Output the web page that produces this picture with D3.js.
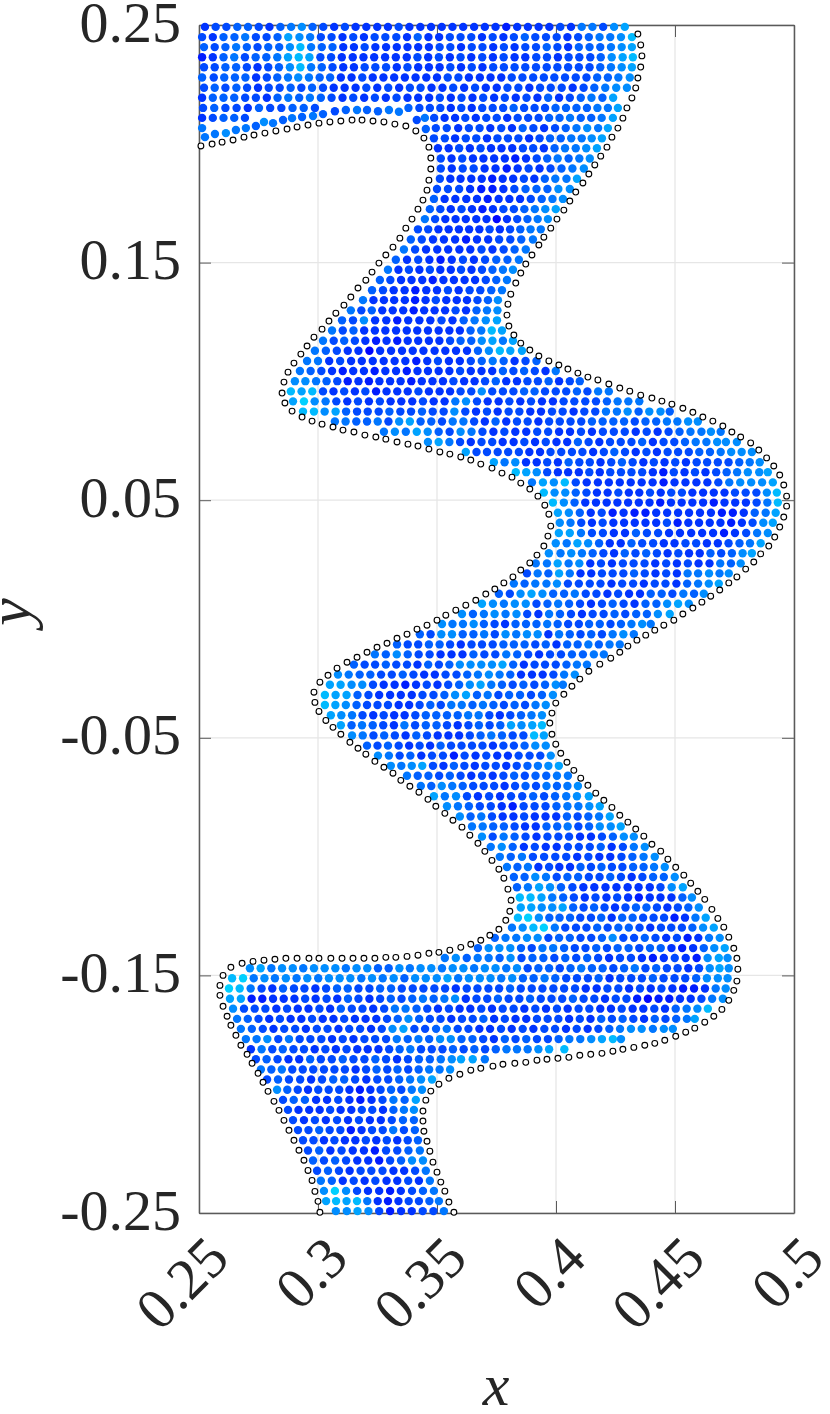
<!DOCTYPE html>
<html><head><meta charset="utf-8">
<script src="https://cdnjs.cloudflare.com/ajax/libs/d3/7.8.5/d3.min.js"></script>
<style>html,body{margin:0;background:#fff}svg{display:block}</style></head>
<body><svg id="c" width="830" height="1414"></svg>
<script>
const xTicks=[.25,.3,.35,.4,.45,.5];
const xTickLabels=["0.25","0.3","0.35","0.4","0.45","0.5"];
const yTicks=[.25,.15,.05,-.05,-.15,-.25];
const yTickLabels=["0.25","0.15","0.05","-0.05","-0.15","-0.25"];
const xName="x", yName="y";
// Boundary nodes, as [x,y] in units of 1e-4.
const boundaryLeft=[[2508,1991],[2555,1999],[2597,2007],[2643,2016],[2689,2028],[2731,2037],[2777,2045],[2823,2054],[2870,2062],[2912,2071],[2958,2079],[3004,2087],[3050,2092],[3096,2096],[3143,2100],[3185,2100],[3231,2096],[3277,2092],[3323,2083],[3369,2075],[3411,2054],[3445,2024],[3466,1986],[3474,1940],[3474,1894],[3466,1847],[3458,1805],[3441,1763],[3420,1725],[3395,1683],[3369,1645],[3344,1603],[3315,1565],[3285,1532],[3256,1498],[3227,1460],[3201,1426],[3168,1393],[3138,1355],[3109,1321],[3075,1287],[3046,1254],[3017,1220],[2983,1186],[2954,1149],[2928,1115],[2899,1077],[2874,1039],[2857,997],[2849,951],[2861,909],[2891,875],[2933,850],[2975,833],[3017,820],[3063,808],[3105,795],[3151,787],[3197,774],[3243,766],[3285,757],[3332,745],[3378,736],[3420,728],[3466,715],[3512,703],[3554,694],[3600,682],[3642,669],[3684,652],[3731,635],[3773,614],[3815,597],[3852,572],[3890,547],[3924,517],[3953,479],[3970,441],[3978,391],[3966,349],[3949,307],[3920,269],[3890,236],[3852,206],[3819,177],[3781,152],[3743,126],[3705,105],[3663,79],[3621,58],[3579,37],[3537,16],[3500,-5],[3458,-26],[3416,-43],[3374,-64],[3332,-81],[3290,-102],[3248,-119],[3206,-140],[3164,-161],[3122,-182],[3080,-207],[3042,-237],[3008,-266],[2983,-308],[2987,-351],[3004,-389],[3033,-427],[3063,-456],[3096,-485],[3134,-519],[3168,-544],[3201,-569],[3239,-599],[3277,-624],[3315,-649],[3348,-679],[3386,-704],[3424,-729],[3462,-759],[3495,-788],[3533,-818],[3567,-847],[3605,-876],[3638,-910],[3672,-944],[3701,-978],[3731,-1016],[3760,-1053],[3781,-1091],[3798,-1137],[3811,-1184],[3806,-1230],[3789,-1268],[3760,-1306],[3722,-1331],[3684,-1352],[3642,-1369],[3600,-1382],[3554,-1394],[3508,-1403],[3466,-1407],[3420,-1415],[3374,-1420],[3327,-1424],[3285,-1424],[3239,-1428],[3193,-1428],[3147,-1428],[3101,-1428],[3054,-1428],[3004,-1428],[2962,-1428],[2912,-1428],[2865,-1428],[2819,-1432],[2773,-1436],[2727,-1441],[2681,-1449],[2634,-1466],[2601,-1500],[2588,-1542],[2588,-1584],[2601,-1630],[2618,-1672],[2634,-1710],[2655,-1752],[2676,-1794],[2702,-1832],[2723,-1870],[2748,-1912],[2769,-1950],[2790,-1988],[2815,-2030],[2836,-2068],[2857,-2110],[2878,-2152],[2899,-2194],[2920,-2236],[2941,-2278],[2958,-2321],[2975,-2363],[2987,-2409],[3000,-2451],[3008,-2497]];
const boundaryRight=[[4344,2462],[4356,2416],[4361,2370],[4356,2323],[4344,2277],[4335,2235],[4319,2193],[4298,2151],[4281,2108],[4260,2066],[4235,2028],[4214,1986],[4188,1948],[4163,1911],[4138,1873],[4113,1835],[4083,1797],[4058,1759],[4033,1721],[4004,1683],[3978,1645],[3949,1607],[3928,1574],[3899,1532],[3873,1494],[3852,1456],[3831,1414],[3810,1367],[3798,1325],[3794,1279],[3802,1233],[3823,1195],[3852,1161],[3890,1132],[3928,1107],[3970,1086],[4012,1069],[4050,1052],[4092,1035],[4134,1018],[4176,1006],[4222,989],[4268,972],[4310,959],[4356,942],[4403,930],[4445,917],[4487,904],[4533,887],[4575,870],[4617,850],[4659,833],[4701,812],[4739,787],[4776,766],[4818,741],[4852,711],[4885,678],[4915,644],[4940,606],[4957,564],[4969,517],[4969,475],[4957,429],[4940,387],[4919,345],[4894,307],[4860,274],[4831,240],[4797,210],[4760,177],[4726,152],[4688,122],[4650,96],[4613,71],[4575,46],[4533,21],[4495,-5],[4453,-26],[4415,-47],[4377,-68],[4340,-89],[4302,-114],[4268,-140],[4230,-165],[4184,-190],[4138,-220],[4100,-253],[4067,-283],[4033,-317],[3999,-354],[3983,-396],[3974,-438],[3983,-485],[3999,-527],[4020,-565],[4046,-603],[4075,-637],[4104,-670],[4134,-700],[4167,-733],[4201,-763],[4235,-793],[4268,-826],[4302,-855],[4335,-884],[4369,-914],[4403,-948],[4440,-977],[4470,-1011],[4503,-1045],[4537,-1078],[4566,-1112],[4596,-1146],[4625,-1180],[4655,-1222],[4680,-1260],[4705,-1297],[4726,-1339],[4747,-1386],[4760,-1428],[4764,-1474],[4760,-1524],[4747,-1563],[4726,-1605],[4697,-1643],[4663,-1672],[4625,-1697],[4583,-1722],[4545,-1739],[4503,-1756],[4457,-1773],[4415,-1786],[4373,-1794],[4327,-1803],[4281,-1811],[4239,-1819],[4193,-1828],[4146,-1832],[4100,-1836],[4054,-1845],[4008,-1849],[3962,-1853],[3920,-1857],[3873,-1866],[3827,-1870],[3777,-1874],[3735,-1882],[3684,-1891],[3642,-1899],[3596,-1916],[3550,-1933],[3508,-1958],[3474,-1987],[3453,-2025],[3441,-2071],[3441,-2113],[3445,-2156],[3458,-2198],[3470,-2240],[3483,-2286],[3500,-2328],[3516,-2370],[3533,-2408],[3550,-2454],[3571,-2497]];
// Nodes that hug the arch under the top lobe: [x,y,level].
const archNodes=[[2525,2028,5],[2567,2041,5],[2613,2045,6],[2655,2058,5],[2697,2066,5],[2739,2075,4],[2773,2092,6],[2811,2087,5],[2853,2100,4],[2891,2108,5],[2933,2113,4],[2979,2117,5],[3021,2125,4],[3071,2137,3],[3117,2142,4],[3164,2142,5],[3206,2142,4],[3252,2137,4],[3298,2142,5],[3340,2135,5],[3415,2100,3],[3453,2062,4]];
// Interior nodes.
// rowY: row height in units of 1e-4. rowNodes: each entry is x (1e-4 units) followed by one digit, the colour level 0-9.
const rowY=[2492,2449,2407,2364,2322,2279,2236,2194,2151,2109,2066,2023,1981,1938,1896,1853,1810,1768,1725,1683,1640,1597,1555,1512,1470,1427,1384,1342,1299,1257,1214,1171,1129,1086,1044,1001,958,916,873,831,788,745,703,660,618,575,532,490,447,405,362,319,277,234,192,149,106,64,21,-21,-64,-107,-149,-192,-234,-277,-320,-362,-405,-447,-490,-533,-575,-618,-660,-703,-746,-788,-831,-873,-916,-959,-1001,-1044,-1086,-1129,-1172,-1214,-1257,-1299,-1342,-1385,-1427,-1470,-1512,-1555,-1598,-1640,-1683,-1725,-1768,-1811,-1853,-1896,-1938,-1981,-2024,-2066,-2109,-2151,-2194,-2237,-2279,-2322,-2364,-2407,-2450,-2492];
const rowNodes=[
[25252,25703,26153,26614,27064,27513,27962,28424,28875,29326,29774,30223,30682,31133,31582,32032,32492,32942,33393,33842,34302,34752,35202,35652,36102,36562,37012,37462,37911,38372,38822,39272,39722,40183,40632,41085,41535,41983,42446,42897],
[25133,25582,26034,26494,26945,27393,27843,28304,28757,29226,29675,30123,30573,31032,31483,31932,32383,32833,33293,33742,34194,34642,35092,35543,35993,36443,36892,37343,37792,38233,38694,39133,39583,40033,40482,40933,41384,41835,42285,42736,43198],
[25214,25663,26114,26565,27014,27463,27914,28374,28826,29268,29715,30164,30614,31062,31512,31963,32412,32862,33312,33762,34212,34662,35113,35563,36012,36463,36913,37362,37813,38262,38713,39163,39614,40063,40512,40964,41414,41864,42315,42766,43197],
[25131,25582,26034,26485,26933,27384,27834,28295,28747,29198,29647,30103,30553,31002,31462,31912,32362,32822,33272,33732,34183,34632,35083,35542,35993,36442,36903,37352,37803,38262,38712,39173,39623,40082,40533,40983,41443,41884,42346,42807,43238],
[25213,25663,26114,26564,27013,27462,27913,28364,28826,29268,29715,30164,30613,31062,31512,31963,32413,32863,33312,33763,34212,34662,35112,35563,36012,36463,36912,37363,37813,38263,38713,39163,39613,40063,40513,40963,41413,41864,42315,42766,43197],
[25134,25623,26064,26514,26954,27402,27853,28294,28745,29176,29625,30074,30514,30962,31412,31863,32302,32752,33202,33652,34102,34552,35002,35453,35903,36342,36802,37252,37702,38143,38593,39043,39493,39933,40383,40833,41283,41734,42184,42625,43106],
[25213,25664,26113,26574,27023,27482,27933,28393,28854,29303,29754,30213,30662,31122,31582,32033,32492,32953,33412,33863,34313,34772,35232,35683,36142,36603,37052,37512,37963,38423,38882,39333,39783,40243,40702,41163,41614,42075,42536,42986],
[25132,25584,26034,26484,26943,27393,27852,28304,28755,29214,29665,30124,30573,31032,31483,31942,32393,32852,33303,33762,34212,34672,35123,35582,36033,36492,36943,37402,37853,38312,38763,39222,39674,40132,40583,41044,41495,41954,42407],
[25173,25644,26113,26583,27052,27524,27993,28463,28934,29404,29873,33804,34263,34703,35143,35582,36023,36462,36903,37343,37783,38224,38663,39103,39543,39984,40424,40864,41304,41745,42185,42607],
[25132,25583,26034,26484,26933,34495,34883,35322,35762,36193,36632,37073,37513,37952,38393,38833,39273,39714,40154,40595,41044,41484,41925,42397],
[25135,34953,35413,35892,36343,36793,37242,37703,38152,38604,39053,39502,39963,40414,40865,41316,41775,42187],
[34873,35333,35762,36213,36653,37102,37543,37983,38423,38872,39313,39754,40204,40645,41085,41506,41937],
[35042,35492,35933,36382,36833,37272,37712,38162,38613,39043,39492,39944,40385,40835,41276,41727],
[35163,35612,36063,36512,36952,37402,37852,38291,38742,39193,39634,40075,40534,40985,41426],
[35163,35622,36083,36543,37002,37462,37931,38392,38853,39312,39773,40234,40695,41176],
[35123,35562,35992,36442,36882,37321,37762,38202,38653,39092,39534,39975,40445,40887],
[35003,35463,35933,36392,36861,37331,37792,38253,38724,39184,39644,40106,40586],
[34874,35322,35772,36232,36682,37131,37592,38042,38492,38943,39404,39855,40296],
[34704,35143,35582,36033,36472,36911,37352,37793,38233,38674,39115,39556,39997],
[34495,34923,35352,35782,36212,36652,37082,37510,37942,38373,38804,39235,39666],
[34203,34633,35062,35492,35922,36352,36782,37213,37642,38073,38504,38935,39365],
[33904,34363,34832,35292,35762,36221,36682,37152,37613,38083,38544,39035],
[33615,34083,34542,35012,35472,35942,36402,36873,37332,37803,38264,38735],
[33274,33742,34213,34682,35151,35622,36093,36552,37023,37494,37964,38445],
[32945,33382,33823,34262,34703,35142,35582,36013,36452,36893,37334,37775,38196],
[32604,33043,33492,33932,34382,34821,35272,35712,36162,36602,37053,37494,37945],
[32274,32733,33182,33642,34091,34552,35002,35463,35912,36373,36823,37284,37735],
[31895,32332,32772,33202,33652,34081,34522,34953,35392,35832,36262,36703,37144,37566],
[31385,31823,32264,32702,33142,33582,34021,34462,34902,35342,35783,36222,36664,37105,37546],
[31014,31473,31936,32402,32872,33331,33792,34262,34722,35193,35652,36124,36585,37056,37527],
[30595,31043,31494,31942,32392,32832,33282,33732,34172,34622,35072,35522,35962,36414,36865,37308,37737],
[30215,30663,31104,31553,31992,32441,32882,33331,33772,34212,34662,35102,35553,35994,36444,36886,37337,37775,38197],
[29875,30334,30793,31252,31702,32160,32612,33072,33532,33982,34432,34902,35352,35802,36262,36724,37186,37648,38087,38577],
[29545,30005,30472,30933,31392,31842,32302,32762,33222,33672,34131,34592,35043,35502,35962,36423,36884,37345,37804,38262,38723,39184],
[29245,29694,30143,30592,31041,31482,31932,32381,32832,33282,33731,34182,34622,35072,35522,35973,36422,36872,37322,37774,38213,38664,39113,39562,39995],
[29036,29476,29925,30364,30813,31251,31702,32141,32582,33032,33472,33921,34362,34812,35252,35693,36142,36582,37023,37474,37912,38362,38803,39243,39694,40132,40583,41004],
[28868,29317,29768,30213,30652,31103,31552,31993,32441,32882,33332,33772,34223,34662,35112,35552,35993,36443,36886,37323,37773,38213,38664,39104,39543,39993,40433,40884,41323,41775,42225],
[28957,29419,29866,30325,30773,31232,31683,32142,32603,33052,33502,33962,34413,34862,35322,35775,36226,36683,37132,37592,38043,38502,38953,39412,39872,40323,40773,41233,41683,42144,42595,43045,43505],
[29378,29838,30286,30747,31184,31643,32093,32553,33004,33463,33913,34374,34823,35283,35736,36193,36642,37103,37552,38013,38463,38922,39372,39833,40283,40742,41193,41653,42105,42565,43016,43474,43926,44396,44784],
[30715,31165,31614,32064,32515,32963,33416,33867,34314,34764,35213,35665,36115,36563,37012,37464,37912,38363,38813,39262,39713,40163,40613,41063,41514,41964,42414,42864,43313,43764,44214,44665,45105,45556,45966],
[32775,33236,33695,34157,34616,35074,35533,35996,36455,36913,37372,37833,38292,38752,39213,39673,40132,40592,41053,41512,41973,42433,42893,43352,43813,44272,44733,45194,45655,46115,46516,46925],
[34626,35077,35525,35973,36422,36873,37323,37762,38222,38673,39122,39573,40022,40472,40924,41373,41822,42273,42723,43173,43624,44072,44523,44973,45424,45875,46325,46776,47146,47606],
[36217,36663,37103,37553,37993,38443,38882,39332,39773,40223,40673,41113,41562,42013,42454,42903,43352,43803,44242,44693,45133,45583,46024,46474,46925,47366,47806,48236],
[37397,37845,38296,38742,39192,39633,40082,40534,40983,41423,41872,42323,42774,43223,43672,44113,44562,45013,45462,45913,46353,46803,47253,47704,48145,48566],
[38318,38757,39196,39633,40082,40512,40962,41403,41842,42283,42733,43173,43623,44072,44511,44953,45402,45843,46282,46733,47174,47615,48066,48546,48907],
[38995,39457,39916,40378,40833,41292,41762,42222,42682,43142,43602,44062,44521,44982,45442,45902,46362,46823,47285,47746,48206,48666,49117],
[39498,39946,40396,40834,41283,41722,42172,42623,43062,43502,43953,44402,44843,45293,45732,46182,46632,47082,47523,47973,48423,48866,49288],
[39878,40336,40784,41232,41682,42132,42582,43032,43482,43932,44381,44832,45282,45732,46182,46631,47082,47532,47982,48433,48885,49328],
[40087,40546,41004,41462,41923,42381,42842,43301,43761,44212,44672,45132,45592,46052,46512,46971,47431,47892,48354,48815,49237],
[40166,40615,41063,41512,41963,42412,42862,43312,43762,44212,44663,45111,45562,46012,46462,46912,47361,47812,48263,48716,49117],
[40127,40587,41055,41513,41973,42432,42902,43364,43823,44293,44752,45212,45682,46142,46602,47061,47522,47993,48455,48906],
[39996,40455,40907,41356,41814,42262,42722,43174,43623,44083,44532,44982,45443,45893,46342,46802,47253,47714,48155,48607],
[39706,40195,40646,41095,41544,41993,42442,42894,43343,43794,44243,44692,45143,45592,46042,46494,46943,47394,47846,48237],
[39155,39625,40077,40535,40986,41442,41893,42352,42813,43263,43723,44172,44633,45082,45543,45992,46452,46905,47354,47766],
[38783,39235,39684,40137,40585,41032,41482,41933,42383,42833,43284,43733,44182,44633,45082,45535,45975,46436,46875,47266],
[38235,38684,39135,39605,40046,40503,40963,41423,41873,42332,42783,43243,43692,44153,44603,45062,45514,45975,46426,46847],
[37604,38063,38516,38977,39436,39884,40344,40795,41253,41703,42162,42613,43072,43532,43984,44444,44893,45355,45804,46216],
[36897,37356,37815,38276,38736,39183,39644,40095,40554,41013,41472,41933,42384,42843,43302,43764,44224,44676,45137,45586],
[36056,36514,36975,37426,37885,38346,38793,39262,39715,40174,40633,41092,41543,42003,42464,42913,43374,43824,44286,44787],
[35216,35655,36095,36546,36974,37423,37862,38304,38744,39184,39635,40074,40513,40963,41394,41844,42293,42734,43175,43626,43985],
[34284,34733,35186,35636,36084,36534,36985,37433,37886,38335,38786,39236,39682,40135,40584,41033,41484,41933,42385,42836,43275],
[33324,33773,34213,34664,35114,35553,36002,36453,36893,37343,37794,38234,38684,39133,39574,40022,40474,40914,41365,41804,42255,42685],
[32395,32854,33316,33774,34233,34693,35152,35612,36072,36534,36993,37453,37915,38374,38833,39292,39753,40213,40674,41134,41595,42015],
[31514,31963,32403,32854,33293,33743,34182,34634,35083,35524,35966,36416,36866,37316,37757,38204,38652,39103,39543,39993,40444,40885,41305],
[30846,31295,31754,32204,32653,33103,33564,34013,34462,34912,35363,35823,36274,36725,37186,37635,38084,38532,38992,39442,39893,40345,40796],
[30507,30957,31416,31866,32313,32762,33222,33671,34122,34573,35022,35473,35934,36386,36837,37285,37734,38183,38634,39093,39544,39996,40295],
[30298,30747,31207,31664,32123,32572,33032,33482,33942,34393,34853,35314,35766,36227,36684,37135,37583,38034,38494,38953,39414,39876],
[30298,30737,31176,31624,32063,32503,32943,33392,33832,34273,34724,35163,35605,36045,36494,36935,37374,37813,38264,38703,39145,39576],
[30547,30986,31435,31873,32322,32763,33202,33642,34093,34534,34974,35424,35874,36315,36755,37203,37642,38083,38534,38975,39416],
[30967,31414,31855,32304,32743,33192,33635,34083,34534,34984,35423,35872,36323,36764,37213,37664,38117,38556,39007,39418],
[31436,31885,32333,32784,33233,33682,34134,34583,35032,35482,35932,36383,36834,37285,37734,38183,38633,39088,39497],
[32064,32503,32944,33393,33832,34273,34712,35154,35593,36033,36473,36913,37352,37793,38233,38684,39136,39576],
[32526,32985,33433,33884,34342,34793,35253,35711,36163,36622,37073,37532,37982,38433,38893,39343,39786],
[33066,33505,33946,34387,34833,35272,35714,36153,36592,37033,37473,37912,38353,38804,39245,39686,40127],
[33745,34194,34644,35093,35544,35993,36442,36893,37342,37793,38244,38693,39144,39594,40045,40505],
[34325,34764,35206,35645,36084,36523,36963,37403,37842,38283,38724,39163,39605,40044,40485,40926],
[34877,35335,35806,36263,36722,37193,37652,38113,38583,39044,39503,39964,40435,40886,41387],
[35426,35885,36344,36803,37263,37722,38181,38643,39103,39563,40024,40485,40945,41406,41847],
[35966,36414,36865,37313,37762,38212,38663,39112,39562,40012,40464,40913,41364,41815,42267],
[36475,36925,37364,37814,38263,38702,39152,39604,40054,40495,40943,41394,41846,42306,42727],
[36896,37343,37805,38264,38723,39182,39643,40103,40553,41012,41472,41933,42394,42856,43276],
[37265,37726,38184,38652,39113,39572,40032,40503,40963,41423,41884,42342,42813,43275,43736],
[37645,38104,38575,39033,39503,39973,40433,40892,41363,41822,42282,42753,43214,43685,44156],
[37945,38384,38825,39262,39713,40142,40592,41034,41473,41914,42353,42793,43244,43684,44125,44576],
[38234,38684,39136,39585,40033,40484,40934,41383,41833,42284,42733,43182,43633,44084,44534,44996],
[38364,38825,39297,39756,40214,40693,41152,41612,42082,42542,43012,43472,43942,44393,44866,45337],
[38488,38938,39397,39845,40304,40753,41212,41663,42122,42573,43032,43481,43942,44392,44852,45314,45716],
[38527,38967,39406,39846,40287,40724,41163,41604,42043,42482,42923,43364,43804,44243,44682,45123,45564,46006],
[38408,38839,39286,39724,40154,40594,41023,41473,41904,42342,42784,43224,43663,44103,44543,44981,45422,45865,46297],
[38155,38606,39058,39499,39955,40393,40843,41283,41734,42173,42624,43064,43513,43962,44413,44843,45293,45734,46186,46637],
[37434,37885,38335,38786,39236,39683,40134,40584,41033,41483,41934,42386,42833,43283,43734,44183,44632,45083,45531,45982,46435,46886],
[36724,37176,37626,38086,38534,38983,39435,39885,40344,40793,41243,41694,42143,42594,43054,43503,43954,44404,44852,45301,45762,46214,46656,47097],
[35335,35796,36254,36715,37175,37634,38096,38553,39014,39474,39933,40394,40853,41314,41773,42232,42693,43153,43612,44071,44532,44993,45452,45911,46376,46847,47216],
[27146,27597,28045,28496,28946,29385,29836,30286,30736,31175,31626,32076,32524,32974,33426,33865,34316,34766,35215,35666,36116,36565,37016,37466,37915,38366,38813,39264,39714,40163,40614,41065,41514,41964,42413,42864,43315,43763,44214,44663,45113,45562,46013,46466,46877,47266],
[26398,26859,27305,27756,28195,28656,29105,29556,30015,30466,30916,31366,31825,32276,32725,33186,33634,34086,34536,34996,35447,35895,36346,36806,37256,37705,38166,38614,39064,39525,39974,40433,40883,41343,41794,42252,42703,43163,43613,44074,44523,44983,45433,45894,46346,46806,47216],
[26269,26718,27175,27633,28082,28534,28993,29433,29892,30343,30804,31254,31703,32163,32614,33074,33523,33983,34433,34893,35343,35792,36253,36703,37163,37613,38074,38523,38983,39433,39893,40343,40803,41252,41712,42163,42623,43072,43533,43982,44433,44892,45341,45801,46262,46715,47136],
[26307,26767,27211,27661,28112,28562,29012,29463,29902,30363,30812,31264,31703,32162,32613,33064,33513,33964,34415,34864,35315,35766,36212,36663,37113,37564,38013,38463,38914,39363,39813,40263,40714,41163,41613,42062,42513,42963,43411,43860,44311,44761,45212,45662,46113,46565,47016],
[26436,26893,27343,27793,28252,28703,29152,29602,30063,30512,30964,31423,31873,32322,32783,33235,33685,34144,34593,35042,35503,35952,36402,36863,37312,37763,38223,38672,39133,39582,40043,40492,40953,41403,41862,42312,42763,43222,43672,44133,44582,45034,45495,45946,46388],
[26605,27054,27503,27952,28403,28852,29302,29753,30202,30652,31103,31552,32002,32452,32903,33354,33806,34254,34703,35153,35602,36053,36503,36954,37402,37853,38302,38752,39203,39653,40103,40552,41003,41452,41904,42353,42804,43253,43702,44154,44603,45054,45505,45837],
[26765,27224,27683,28132,28583,29043,29492,29953,30403,30862,31313,31773,32232,32683,33136,33597,34053,34503,34964,35415,35873,36323,36782,37232,37693,38142,38603,39052,39513,39963,40422,40873,41332,41783,42244,42695,43156,43606,44075,44536,44916],
[26975,27425,27876,28333,28785,29233,29683,30143,30592,31043,31492,31953,32403,32863,33315,33774,34225,34674,35136,35586,36034,36494,36943,37392,37854,38303,38754,39203,39663,40114,40565,41025,41486,41937,42398,42736],
[27182,27635,28083,28524,28973,29413,29862,30313,30752,31203,31652,32092,32542,32993,33434,33885,34333,34783,35233,35674,36123,36574,37023,37474,37925,38365,38815,39266,39717,40358],
[27393,27844,28303,28762,29212,29674,30123,30583,31044,31493,31953,32414,32863,33322,33783,34244,34704,35165,35626,36017,36507,37015],
[27605,28044,28485,28923,29363,29803,30253,30693,31133,31582,32023,32464,32913,33344,33793,34234,34675,35115,35556],
[27863,28324,28783,29253,29712,30173,30644,31104,31563,32032,32493,32953,33414,33875,34336,34797],
[28286,28714,29153,29582,30013,30453,30893,31322,31761,32202,32633,33074,33503,33945,34376],
[28533,28984,29454,29922,30382,30853,31322,31781,32252,32713,33175,33644,34117],
[28743,29182,29632,30072,30513,30952,31402,31843,32283,32732,33174,33615,34036],
[28953,29412,29873,30332,30803,31262,31723,32182,32642,33103,33574,34034],
[29163,29603,30054,30493,30943,31381,31832,32273,32723,33165,33613,34074],
[29373,29813,30252,30693,31132,31572,32013,32452,32893,33332,33773,34204],
[29583,30054,30522,30993,31462,31932,32391,32863,33333,33804,34285],
[29794,30253,30724,31183,31652,32112,32571,33033,33494,33956,34416],
[29963,30424,30883,31332,31793,32243,32713,33172,33622,34083,34535],
[30125,30584,31042,31503,31962,32413,32882,33332,33793,34242,34705],
[30256,30719,31186,31643,32102,32572,33031,33482,33953,34414,34875],
[30347,30768,31207,31648,32075,32512,32941,33382,33813,34243,34684,35085],
[30756,31216,31667,32126,32573,33031,33492,33942,34403,34853,35295]
];
const colorStops=["#0006ff","#00d0ff"];

const W=830,H=1414,svg=d3.select("#c");
const x=d3.scaleLinear().domain([.25,.5]).range([199,794]);
const y=d3.scaleLinear().domain([-.25,.25]).range([1213,25]);
const color=d3.scaleLinear().domain([0,9]).range(colorStops);
const frame="#5a5a5a", ink="#262626";
const font="'Liberation Serif','DejaVu Serif',serif";

// grid
svg.append("g").selectAll("line").data(xTicks).join("line")
  .attr("x1",d=>x(d)).attr("x2",d=>x(d)).attr("y1",y(.25)).attr("y2",y(-.25)).attr("stroke","#e6e6e6").attr("stroke-width",1.3);
svg.append("g").selectAll("line").data(yTicks).join("line")
  .attr("y1",d=>y(d)).attr("y2",d=>y(d)).attr("x1",x(.25)).attr("x2",x(.5)).attr("stroke","#e6e6e6").attr("stroke-width",1.3);

// axes: inward ticks on all four sides
const styleAxis=g=>{g.selectAll("path").attr("stroke",frame).attr("stroke-width",1.5);
  g.selectAll("line").attr("stroke",frame).attr("stroke-width",1);};
const bottom=svg.append("g").attr("transform",`translate(0,${y(-.25)})`)
  .call(d3.axisBottom(x).tickValues(xTicks).tickSize(-12).tickSizeOuter(0).tickFormat((d,i)=>xTickLabels[i])).call(styleAxis);
bottom.selectAll("text").attr("font-family",font).attr("font-size",58).attr("fill",ink)
  .attr("text-anchor","end").attr("dy",0).attr("y",0)
  .attr("transform","translate(32,48) rotate(-45)");
const left=svg.append("g").attr("transform",`translate(${x(.25)},0)`)
  .call(d3.axisLeft(y).tickValues(yTicks).tickSize(-12).tickSizeOuter(0).tickFormat((d,i)=>yTickLabels[i])).call(styleAxis);
left.selectAll("text").attr("font-family",font).attr("font-size",58).attr("fill",ink)
  .attr("text-anchor","end").attr("x",-18).attr("dy",0).attr("y",16);
svg.append("g").attr("transform",`translate(0,${y(.25)})`)
  .call(d3.axisTop(x).tickValues(xTicks).tickSize(-12).tickSizeOuter(0).tickFormat("")).call(styleAxis);
svg.append("g").attr("transform",`translate(${x(.5)},0)`)
  .call(d3.axisRight(y).tickValues(yTicks).tickSize(-12).tickSizeOuter(0).tickFormat("")).call(styleAxis);

// interior nodes
const nodes=[];
rowNodes.forEach((row,i)=>row.forEach(v=>nodes.push({x:Math.floor(v/10)/1e4,y:rowY[i]/1e4,level:v%10})));
archNodes.forEach(a=>nodes.push({x:a[0]/1e4,y:a[1]/1e4,level:a[2]}));
svg.append("g").selectAll("circle").data(nodes).join("circle")
  .attr("cx",d=>x(d.x)).attr("cy",d=>y(d.y)).attr("r",4.2).attr("fill",d=>color(d.level));

// boundary nodes
svg.append("g").selectAll("circle").data(boundaryLeft.concat(boundaryRight)).join("circle")
  .attr("cx",d=>x(d[0]/1e4)).attr("cy",d=>y(d[1]/1e4)).attr("r",2.9)
  .attr("fill","#fff").attr("stroke","#000").attr("stroke-width",1.1);

// axis names
svg.append("text").attr("x",496).attr("y",1405).attr("text-anchor","middle")
  .attr("font-family",font).attr("font-style","italic").attr("font-size",60).attr("fill",ink).text(xName);
svg.append("text").attr("transform","translate(30,612) rotate(-90)").attr("text-anchor","middle")
  .attr("font-family",font).attr("font-style","italic").attr("font-size",62).attr("fill",ink).text(yName);
</script></body></html>
